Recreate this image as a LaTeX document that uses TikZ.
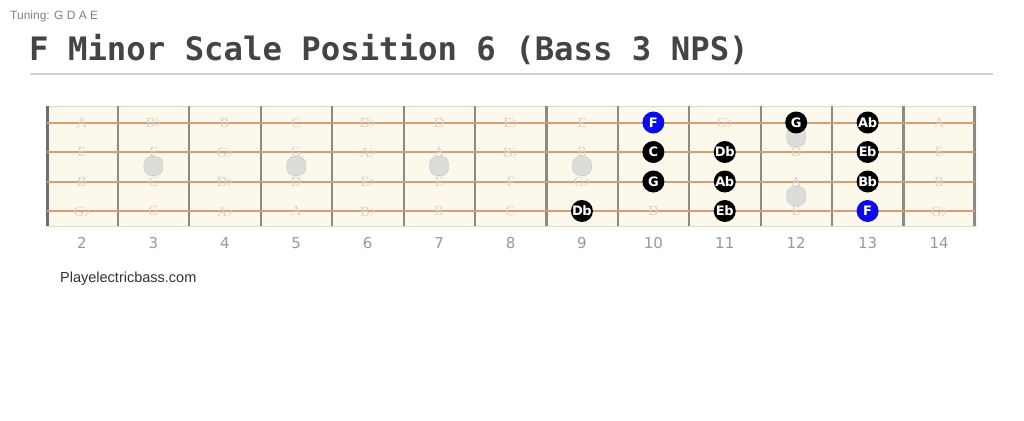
\documentclass[tikz,border=0pt]{standalone}
\usepackage{fontspec}
\setmainfont{Liberation Serif}
\setsansfont{Liberation Sans}
\newfontfamily\titlefont{DejaVu Sans Mono}
\newfontfamily\numfont{DejaVu Sans}
\newfontfamily\heavyfont{DejaVu Sans}
\definecolor{board}{HTML}{FDF8EC}
\definecolor{boardedge}{HTML}{DDDAD2}
\definecolor{fretc}{HTML}{8A8A86}
\definecolor{stringc}{HTML}{D3A076}
\definecolor{faint}{HTML}{D9D1C6}
\definecolor{dotc}{HTML}{DCDCD8}
\definecolor{dotedge}{HTML}{CFCFCB}
\definecolor{titlec}{HTML}{444444}
\definecolor{rulec}{HTML}{D0D0D0}
\definecolor{numc}{HTML}{999999}
\definecolor{bluec}{HTML}{0A0AF0}
\tikzset{
  faintnote/.style={text=faint, font=\fontsize{14}{14}\selectfont, inner sep=0pt},
  marknote/.style={circle, fill=black, minimum size=22pt, inner sep=0pt, text=white,
     font=\heavyfont\bfseries\fontsize{13}{12}\selectfont},
  rootnote/.style={marknote, fill=bluec},
  inlay/.style={fill=dotc, draw=dotedge, line width=0.6pt, rounded corners=7.5pt,
     minimum width=19pt, minimum height=19pt, inner sep=0pt},
  fretline/.style={draw=fretc, line width=2.2pt},
  stringline/.style={draw=stringc, line width=2pt},
  fretnum/.style={text=numc, font=\numfont\fontsize{15}{15}\selectfont, inner sep=0pt},
}
\newcommand{\nb}[1]{#1\kern-0.5pt b}
\begin{document}
\begin{tikzpicture}[x=1pt,y=-1pt]
\useasboundingbox (0,0) rectangle (1024,420);
\fill[white] (0,0) rectangle (1024,420);
% header
\node[anchor=base west, text=numc!85!black, font=\sffamily\fontsize{12}{12}\selectfont, inner sep=0pt] (tuning) at (10,20) {Tuning: G D A E};
\node[anchor=base west, text=titlec, font=\titlefont\bfseries\fontsize{32.3}{32}\selectfont, inner sep=0pt] (title) at (29,60) {F Minor Scale Position 6 (Bass 3 NPS)};
\coordinate (ruleL) at (30,74);
\coordinate (ruleR) at (993,74);
\draw[rulec, line width=1.6pt] (ruleL) -- (ruleR);
% board
\fill[board] (46,106) rectangle (977,226);
\draw[boardedge, line width=1pt] (46,106) -- (977,106);
\draw[boardedge, line width=1pt] (46,226) -- (977,226);
% inlays
\foreach \k in {3,5,7,9} {
  \node[inlay] (dot\k) at ({82+(\k-2)*71.42},166) {};
}
\node[inlay] (dot12a) at ({82+10*71.42},137) {};
\node[inlay] (dot12b) at ({82+10*71.42},196) {};
% frets
\foreach \j in {1,...,12} {
  \draw[fretline] ({46.5+\j*71.42},106) -- ({46.5+\j*71.42},226);
}
\draw[draw=fretc!80!black, line width=3pt] (47.5,106) -- (47.5,226);
\draw[draw=fretc, line width=3pt] (974.5,106) -- (974.5,226);
% strings
\foreach \y in {122.5,152,181.5,211} {
  \draw[stringline] (47,\y) -- (975,\y);
}
% faint note names
\newcommand{\fl}{$\flat$}
\foreach \k/\lab in {2/A,3/B\fl,4/B,5/C,6/D\fl,7/D,8/E\fl,9/E,11/G\fl,14/A} {
  \node[faintnote] (g\k) at ({82+(\k-2)*71.42},122.5) {\lab};
}
\foreach \k/\lab in {2/E,3/F,4/G\fl,5/G,6/A\fl,7/A,8/B\fl,9/B,12/D,14/E} {
  \node[faintnote] (d\k) at ({82+(\k-2)*71.42},152) {\lab};
}
\foreach \k/\lab in {2/B,3/C,4/D\fl,5/D,6/E\fl,7/E,8/F,9/G\fl,12/A,14/B} {
  \node[faintnote] (a\k) at ({82+(\k-2)*71.42},181.5) {\lab};
}
\foreach \k/\lab in {2/G\fl,3/G,4/A\fl,5/A,6/B\fl,7/B,8/C,10/D,12/E,14/G\fl} {
  \node[faintnote] (e\k) at ({82+(\k-2)*71.42},211) {\lab};
}
% scale notes
\node[rootnote] (g10) at ({82+8*71.42},122.5) {F};
\node[marknote] (g12) at ({82+10*71.42},122.5) {G};
\node[marknote] (g13) at ({82+11*71.42},122.5) {\nb{A}};
\node[marknote] (d10) at ({82+8*71.42},152) {C};
\node[marknote] (d11) at ({82+9*71.42},152) {\nb{D}};
\node[marknote] (d13) at ({82+11*71.42},152) {\nb{E}};
\node[marknote] (a10) at ({82+8*71.42},181.5) {G};
\node[marknote] (a11) at ({82+9*71.42},181.5) {\nb{A}};
\node[marknote] (a13) at ({82+11*71.42},181.5) {\nb{B}};
\node[marknote] (e9) at ({82+7*71.42},211) {\nb{D}};
\node[marknote] (e11) at ({82+9*71.42},211) {\nb{E}};
\node[rootnote] (e13) at ({82+11*71.42},211) {F};
% fret numbers
\foreach \k in {2,...,14} {
  \node[fretnum] (n\k) at ({82+(\k-2)*71.42},243) {\k};
}
\node[anchor=west, text=black!80, font=\sffamily\fontsize{14.5}{14}\selectfont, inner sep=0pt] (site) at (60,279) {Playelectricbass.com};
\end{tikzpicture}
\end{document}
